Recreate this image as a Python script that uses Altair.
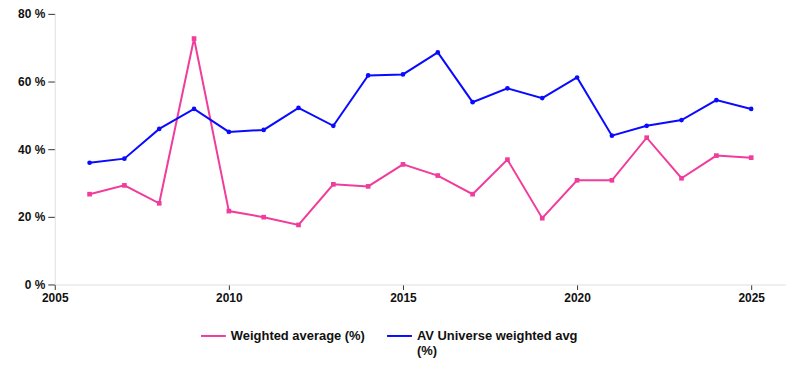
import altair as alt
import pandas as pd

years = list(range(2006, 2026))
weighted = [26.7, 29.3, 24.0, 72.7, 21.7, 19.9, 17.6, 29.6, 29.0, 35.5,
            32.2, 26.7, 36.9, 19.6, 30.8, 30.8, 43.4, 31.4, 38.1, 37.5]
universe = [36.0, 37.2, 46.0, 51.9, 45.1, 45.7, 52.2, 46.9, 61.8, 62.1,
            68.6, 53.9, 58.0, 55.1, 61.2, 44.0, 46.9, 48.6, 54.5, 51.9]
series_names = ["Weighted average (%)", "AV Universe weighted avg (%)"]
colors = ["#f03c9b", "#0a0aff"]

rows = []
for y, a, b in zip(years, weighted, universe):
    rows.append({"year": y, "value": a, "series": series_names[0]})
    rows.append({"year": y, "value": b, "series": series_names[1]})
df = pd.DataFrame(rows)

font = "Liberation Sans"

x = alt.X("year:Q", scale=alt.Scale(domain=[2005, 2026], nice=False, zero=False),
          axis=alt.Axis(values=[2005, 2010, 2015, 2020, 2025], format="d", title=None,
                        grid=False, domainColor="#e0e0e0", tickColor="#333", tickSize=5,
                        labelFlush=False,
                        labelFont=font, labelFontSize=12, labelFontWeight="bold",
                        labelColor="#111", labelPadding=3))
y = alt.Y("value:Q", scale=alt.Scale(domain=[0, 80], nice=False),
          axis=alt.Axis(values=[0, 20, 40, 60, 80], labelExpr="datum.value + ' %'", title=None,
                        grid=False, domainColor="#e0e0e0", tickColor="#333", tickSize=7,
                        labelFlush=False,
                        labelFont=font, labelFontSize=12, labelFontWeight="bold",
                        labelColor="#111", labelPadding=3))
color = alt.Color("series:N", scale=alt.Scale(domain=series_names, range=colors),
                  legend=alt.Legend(title=None, orient="none", direction="horizontal",
                                    legendX=146, legendY=310, symbolType="stroke",
                                    symbolStrokeWidth=2, symbolSize=625,
                                    labelFont=font, labelFontSize=13, labelFontWeight="bold",
                                    labelColor="#111", columnPadding=18, labelLimit=220,
                                    labelExpr="datum.label == 'AV Universe weighted avg (%)' ? ['AV Universe weighted avg', '(%)'] : [datum.label, ' ']"))

pcolor = alt.Color("series:N", scale=alt.Scale(domain=series_names, range=colors), legend=None)

base = alt.Chart(df)
line = base.mark_line(strokeWidth=2).encode(x=x, y=y, color=color)
pts_pink = base.transform_filter(alt.datum.series == series_names[0]).mark_point(
    shape="square", filled=True, size=22, opacity=1).encode(x=x, y=y, color=pcolor)
pts_blue = base.transform_filter(alt.datum.series == series_names[1]).mark_point(
    shape="circle", filled=True, size=22, opacity=1).encode(x=x, y=y, color=pcolor)

chart = alt.layer(line, pts_pink, pts_blue).properties(
    width=735, height=272,
    autosize=alt.AutoSizeParams(type="none"),
    padding={"left": 47, "top": 5, "right": 0, "bottom": 75},
).configure_view(stroke=None)

chart.save("out.html", embed_options={"renderer": "svg", "actions": False})
